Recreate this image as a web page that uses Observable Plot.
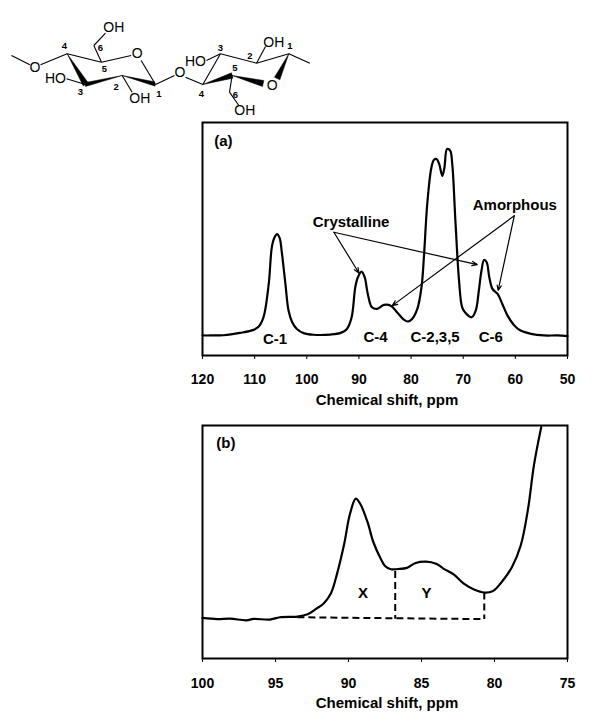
<!DOCTYPE html>
<html><head><meta charset="utf-8">
<style>html,body{margin:0;padding:0;background:#fff}svg{display:block}</style>
<script src="https://cdn.jsdelivr.net/npm/d3@7"></script>
<script src="https://cdn.jsdelivr.net/npm/@observablehq/plot@0.6"></script>
</head><body><div id="c"></div>
<script>
const FONT = "'Liberation Sans',Arial,sans-serif";

// Panel (a)
const ppmA = [120,118.5,116,112.8,110.2,109.2,108.3,107.3,106.7,106.2,105.7,105.2,104.8,104.1,103.5,102.8,101.9,100.6,98.7,95.5,93.5,92.3,91.4,90.7,90.2,89.5,88.9,88.3,87.5,86.5,85.2,83.9,82.7,81.4,80.6,79.8,78.8,78,77.5,76.9,76.1,75.6,75.1,74.6,74,73.6,73.1,72.5,72.1,71.5,70.8,70.2,69.5,68.4,67.6,67,66.5,66,65.5,65,64.4,63.4,62.5,61.5,60.2,59,57,54.5,51.9,50];
const intA = [8.6,8.6,8.7,9.7,11,12.4,16.4,30.7,46.5,50.6,52.1,50.4,44.5,30.7,19.3,14.3,11.4,9.6,8.9,9,9.7,11.4,16.4,29.3,33.6,36,33.6,26.4,20.7,20,21.7,21.4,18.6,15.4,14.6,15.7,20,29.3,43.6,65,80.7,84,84.3,82.1,77.1,80.7,88.6,87.9,82.1,57.9,32.1,20.7,18.1,16.4,19.3,27.9,36.4,41,40,33.6,28.6,26.4,22.1,17.1,12.9,10.7,9.3,8.6,8.6,8.3];
const ticksA = [120,110,100,90,80,70,60,50];
const labelsA = [
  {t:"(a)",x:116,y:91.9},{t:"C-1",x:106.1,y:7.1},{t:"C-4",x:86.8,y:7.9},
  {t:"C-2,3,5",x:75.4,y:7.9},{t:"C-6",x:64.7,y:7.9},
  {t:"Crystalline",x:91.5,y:57.1},{t:"Amorphous",x:60.1,y:64.3}];
const arrowsA = [
  {x1:94.8,y1:52.9,x2:90.0,y2:35.4},{x1:94.8,y1:52.9,x2:67.3,y2:39},
  {x1:60.2,y1:60,x2:83.6,y2:21.4},{x1:60.2,y1:60,x2:63.3,y2:27.9}];

// Panel (b)
const ppmB = [100,99,98.1,97,96.5,95.4,94.7,93.5,92.8,92.2,91.7,91.2,90.8,90.3,89.9,89.5,89.2,88.7,88.3,87.8,87.5,87.1,86.6,86,85.4,84.7,84,83.5,82.8,82.1,81.4,80.7,80.1,79.6,78.8,78.2,77.7,77.3,76.8];
const intB = [17.4,16.9,17.1,16.4,17,16.7,17.7,18,19,21.4,23.6,28,36,49,62,68.6,66.4,58.6,50,42.9,39.7,38.3,38.4,38.9,41,41.6,40.7,38.6,36.1,32.1,29.6,28.3,29,32.1,39.3,48.6,64.3,82.9,99.3];
const ticksB = [100,95,90,85,80,75];
const dashes = [
  {x1:93.5,y1:17.7,x2:80.7,y2:16.9},
  {x1:86.8,y1:37.6,x2:86.8,y2:17.1},
  {x1:80.7,y1:28.3,x2:80.7,y2:16.9}];
const labelsB = [{t:"(b)",x:98.4,y:92.4},{t:"X",x:89,y:27.9},{t:"Y",x:84.65,y:27.9}];

// Structure diagram
const bonds = [[33,135,88,163],[120,163,200,130],[200,130,303,155],[303,155,392,135],[422,150,465,222],[303,155,280,105],[280,105,315,68],[255,222,198,205],[365,195,395,245],[465,222,522,195],[555,200,607,222],[865,130,928,158],[865,130,768,158],[768,158,660,130],[768,158,795,108],[660,130,607,222],[660,130,618,150],[695,195,687,245],[687,245,715,285]];
const wedges = [
  [[200,130],[248,226],[264,218]],
  [[255,216],[255,228],[365,195]],
  [[365,195],[462,214],[464,227]],
  [[607,222],[693,187],[697,203]],
  [[695,195],[790,210],[786,228]],
  [[865,130],[822,200],[838,208]]];
const atoms = [
  {t:"OH",x:340,y:52},{t:"O",x:410,y:130},{t:"O",x:103,y:170},{t:"HO",x:165,y:203},{t:"OH",x:418,y:263},
  {t:"O",x:538,y:186},{t:"HO",x:585,y:152},{t:"OH",x:820,y:95},{t:"O",x:815,y:225},{t:"OH",x:733,y:300}];
const numbers = [
  {t:"4",x:192,y:107},{t:"6",x:300,y:113},{t:"5",x:312,y:175},{t:"3",x:240,y:243},{t:"2",x:347,y:228},{t:"1",x:475,y:250},
  {t:"3",x:660,y:113},{t:"2",x:748,y:135},{t:"1",x:868,y:107},{t:"5",x:703,y:172},{t:"4",x:603,y:250},{t:"6",x:705,y:252}];

const c = document.getElementById("c");

c.appendChild(Plot.plot({
  width:600,height:119,margin:0,
  style:{fontFamily:FONT,background:"#fff"},
  x:{domain:[0,1800],range:[0,600],axis:null},
  y:{domain:[-30,327],range:[0,119],axis:null},
  marks:[
    Plot.link(bonds,{x1:d=>d[0],y1:d=>d[1],x2:d=>d[2],y2:d=>d[3],stroke:"#000",strokeWidth:1.1}),
    ...wedges.map(w=>Plot.line([...w,w[0]],{x:d=>d[0],y:d=>d[1],fill:"#000",stroke:"#000",strokeWidth:0.5})),
    Plot.text(atoms,{x:"x",y:"y",text:"t",fontSize:14,fill:"#000"}),
    Plot.text(numbers,{x:"x",y:"y",text:"t",fontSize:9.5,fontWeight:"bold",fill:"#000"})
  ]
}));

const panel = (opts, ticks, marks) => Plot.plot({
  width:600,height:opts.height,marginTop:opts.top,marginBottom:opts.bottom,marginLeft:202,marginRight:33,
  style:{fontFamily:FONT,fontWeight:"bold",color:"#000",background:"#fff"},
  x:{domain:opts.domain},
  y:{domain:[0,100],axis:null},
  marks:[
    Plot.axisX({ticks,tickFormat:d=>String(d),tickSize:4,tickPadding:opts.pad,fontSize:14,label:null}),
    ...marks,
    Plot.text(["Chemical shift, ppm"],{frameAnchor:"bottom",lineAnchor:"middle",dy:45,dx:2,fontSize:15,fontWeight:"bold",fill:"#000"})
  ]
});

c.appendChild(panel({height:293,top:3,bottom:57,domain:[120,50],pad:15},ticksA,[
  Plot.line(ppmA.map((x,i)=>({x,y:intA[i]})),{x:"x",y:"y",stroke:"#000",strokeWidth:2.2,curve:"catmull-rom"}),
  Plot.arrow(arrowsA,{x1:"x1",y1:"y1",x2:"x2",y2:"y2",stroke:"#000",strokeWidth:1.2,headLength:7,headAngle:45}),
  Plot.frame({stroke:"#000",strokeWidth:2}),
  Plot.text(labelsA,{x:"x",y:"y",text:"t",fontSize:15,fontWeight:"bold",fill:"#000"})
]));

c.appendChild(panel({height:309,top:13,bottom:63,domain:[100,75],pad:16},ticksB,[
  Plot.line(ppmB.map((x,i)=>({x,y:intB[i]})),{x:"x",y:"y",stroke:"#000",strokeWidth:2.2,curve:"catmull-rom"}),
  Plot.link(dashes,{x1:"x1",y1:"y1",x2:"x2",y2:"y2",stroke:"#000",strokeWidth:2,strokeDasharray:"7,4"}),
  Plot.frame({stroke:"#000",strokeWidth:2}),
  Plot.text(labelsB,{x:"x",y:"y",text:"t",fontSize:15,fontWeight:"bold",fill:"#000"})
]));
</script></body></html>
